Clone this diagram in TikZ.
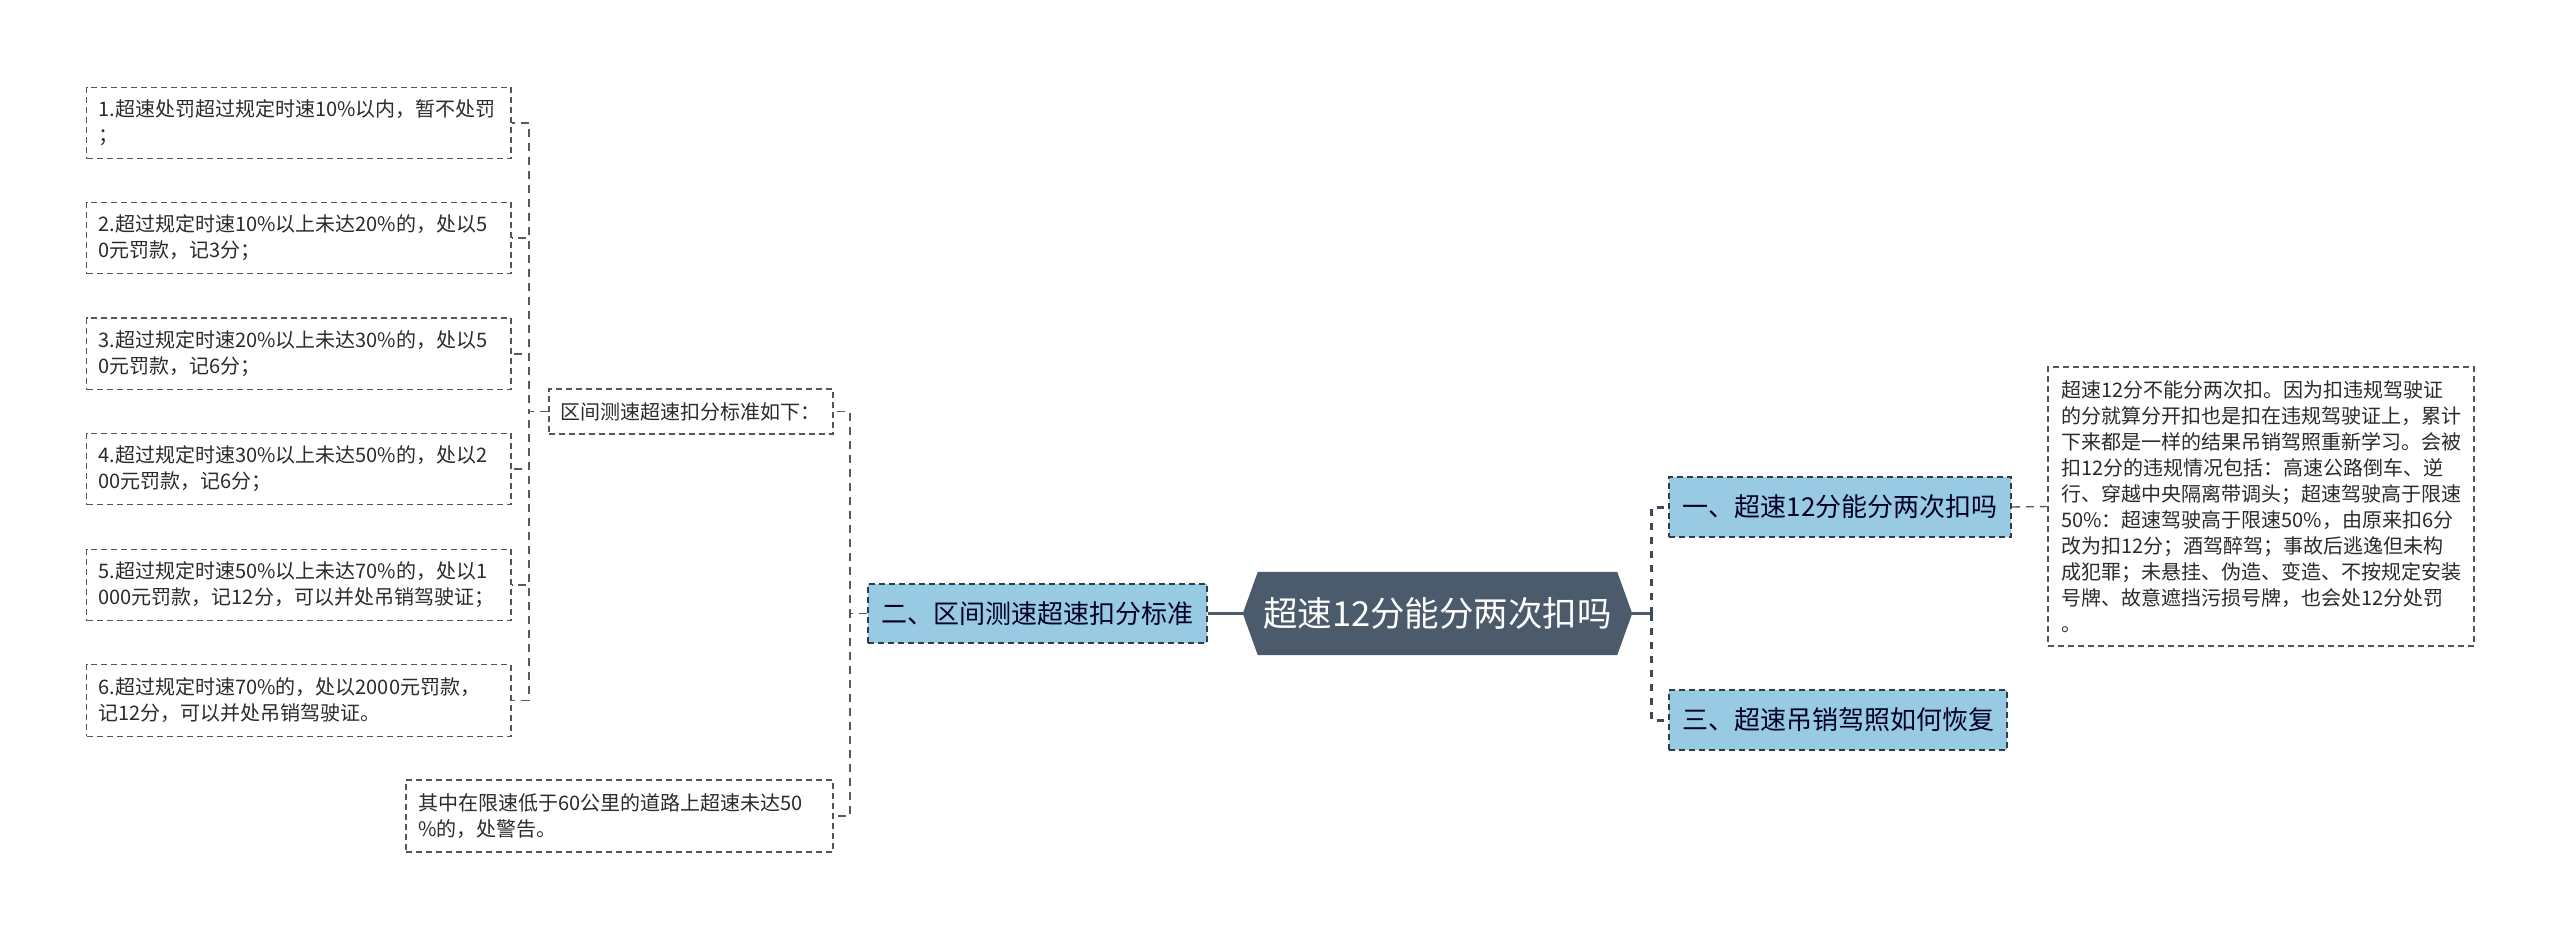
\documentclass[tikz,border=0pt]{standalone}
\usepackage{fontspec}
\setmainfont{Noto Sans CJK SC}
\usetikzlibrary{backgrounds}
\definecolor{boxc}{HTML}{555555}
\definecolor{txt}{HTML}{2B2B2B}
\definecolor{bluefill}{HTML}{98CAE3}
\definecolor{blueline}{HTML}{2E3D4B}
\definecolor{hexfill}{HTML}{4B5B6B}
\definecolor{conn}{HTML}{5A5A5A}
\definecolor{trunkc}{HTML}{3D4B59}
\begin{document}
\begin{tikzpicture}[x=1pt,y=-1pt,
  leafbox/.style={draw=boxc, fill=white, dash pattern=on 6pt off 4pt, line width=1.3pt,
    align=left, inner xsep=12pt, inner ysep=0pt, text=txt,
    font=\fontsize{20}{26}\selectfont},
  lvlbox/.style={draw=blueline, fill=bluefill, dash pattern=on 6pt off 4pt, line width=1.5pt,
    align=center, inner sep=0pt, text=black!85!blue,
    font=\fontsize{26}{32}\selectfont},
  thinconn/.style={draw=conn, line width=1.4pt, dash pattern=on 8pt off 6pt},
  thickconn/.style={draw=trunkc, line width=3pt, dash pattern=on 7pt off 7pt},
  solidconn/.style={draw=hexfill, line width=3pt}]
\useasboundingbox (0,0) rectangle (2560,939);

% left leaves
\node[leafbox, minimum width=424.5, minimum height=71.5, text width=400.5] (c1) at (298.75,123.1)
  {1.超速处罚超过规定时速10\%以内，暂不处罚\\；};
\node[leafbox, minimum width=424.5, minimum height=71.5, text width=400.5] (c2) at (298.75,238)
  {2.超过规定时速10\%以上未达20\%的，处以5\\0元罚款，记3分；};
\node[leafbox, minimum width=424.5, minimum height=71.5, text width=400.5] (c3) at (298.75,353.8)
  {3.超过规定时速20\%以上未达30\%的，处以5\\0元罚款，记6分；};
\node[leafbox, minimum width=424.5, minimum height=71.5, text width=400.5] (c4) at (298.75,469)
  {4.超过规定时速30\%以上未达50\%的，处以2\\00元罚款，记6分；};
\node[leafbox, minimum width=424.5, minimum height=71.5, text width=400.5] (c5) at (298.75,585)
  {5.超过规定时速50\%以上未达70\%的，处以1\\000元罚款，记12分，可以并处吊销驾驶证；};
\node[leafbox, minimum width=424.5, minimum height=71.5, text width=400.5] (c6) at (298.75,700.4)
  {6.超过规定时速70\%的，处以2000元罚款，\\记12分，可以并处吊销驾驶证。};

% second level
\node[leafbox, minimum width=284, minimum height=45, text width=262, inner xsep=11pt] (mid) at (691,411.5)
  {区间测速超速扣分标准如下：};
\node[leafbox, minimum width=427, minimum height=72, text width=403, inner xsep=12pt] (bot) at (619.5,816)
  {其中在限速低于60公里的道路上超速未达50\\\%的，处警告。};

% first level
\node[lvlbox, minimum width=339, minimum height=59] (l2) at (1037.5,613.5) {二、区间测速超速扣分标准};
\node[lvlbox, minimum width=342, minimum height=60] (l1) at (1840,507) {一、超速12分能分两次扣吗};
\node[lvlbox, minimum width=338, minimum height=60] (l3) at (1838,720) {三、超速吊销驾照如何恢复};

% detail
\node[leafbox, minimum width=426, minimum height=279, text width=400, inner xsep=13pt] (det) at (2261,506.5)
  {超速12分不能分两次扣。因为扣违规驾驶证\\
   的分就算分开扣也是扣在违规驾驶证上，累计\\
   下来都是一样的结果吊销驾照重新学习。会被\\
   扣12分的违规情况包括：高速公路倒车、逆\\
   行、穿越中央隔离带调头；超速驾驶高于限速\\
   50\%：超速驾驶高于限速50\%，由原来扣6分\\
   改为扣12分；酒驾醉驾；事故后逃逸但未构\\
   成犯罪；未悬挂、伪造、变造、不按规定安装\\
   号牌、故意遮挡污损号牌，也会处12分处罚\\
   。};

% central
\node[inner sep=0pt, minimum width=389, minimum height=83, text=white,
  font=\fontsize{34.5}{40}\selectfont] (center) at (1437.5,613.5) {超速12分能分两次扣吗};
\begin{scope}[on background layer]
\fill[white] (0,0) rectangle (2560,939);
\fill[hexfill] (center.west) -- ([xshift=15pt]center.north west) -- ([xshift=-15pt]center.north east)
  -- (center.east) -- ([xshift=-15pt]center.south east) -- ([xshift=15pt]center.south west) -- cycle;
\end{scope}

% connector coordinates
\coordinate (tl) at (529,411.5);
\coordinate (t2) at (850,613.5);
\coordinate (tr) at (1651,613.5);

% connectors
\foreach \c in {c1,c2,c3,c4,c5,c6}
  \draw[thinconn] (mid.west) -- (tl) |- (\c.east);
\draw[thinconn] (l2.west) -- (t2) |- (mid.east);
\draw[thinconn] (l2.west) -- (t2) |- (bot.east);
\draw[solidconn] (center.west) -- (l2.east);
\draw[solidconn] (center.east) -- (tr);
\draw[thickconn] (tr) |- (l1.west);
\draw[thickconn] (tr) |- (l3.west);
\draw[thinconn] (l1.east) -- (det.west);
\end{tikzpicture}
\end{document}
